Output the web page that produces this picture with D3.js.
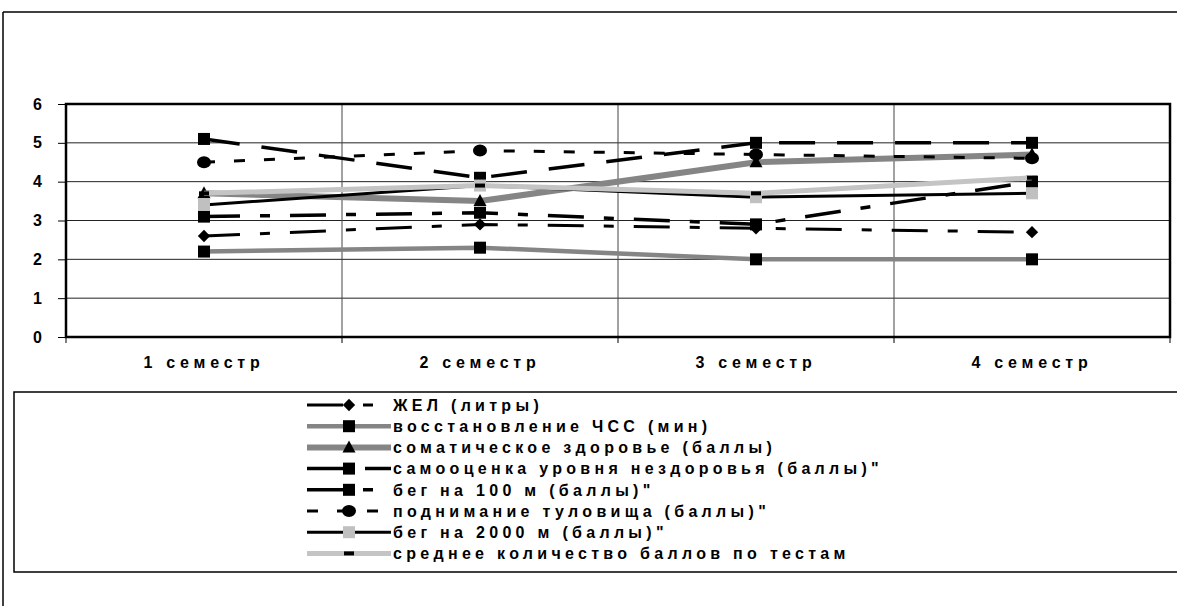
<!DOCTYPE html>
<html>
<head>
<meta charset="utf-8">
<script src="https://cdn.jsdelivr.net/npm/d3@7"></script>
<style>
  body { margin: 0; background: #fff; }
  text { font-family: "Liberation Sans", Arial, sans-serif; font-weight: bold; fill: #000; }
</style>
</head>
<body>
<svg id="chart" width="1177" height="606"></svg>
<script>
// Данные
const semesters = ["1 семестр", "2 семестр", "3 семестр", "4 семестр"];
const yTicks = [0, 1, 2, 3, 4, 5, 6];
const seriesNames = [
    "ЖЕЛ (литры)",
    "восстановление ЧСС (мин)",
    "соматическое здоровье (баллы)",
    "самооценка уровня нездоровья (баллы)\"",
    "бег на 100 м (баллы)\"",
    "поднимание туловища (баллы)\"",
    "бег на 2000 м (баллы)\"",
    "среднее количество баллов по тестам"
];
const zhel = [2.6, 2.9, 2.8, 2.7];
const hrRecovery = [2.2, 2.3, 2.0, 2.0];
const somatic = [3.7, 3.5, 4.5, 4.7];
const selfRating = [5.1, 4.1, 5.0, 5.0];
const run100 = [3.1, 3.2, 2.9, 4.0];
const situps = [4.5, 4.8, 4.7, 4.6];
const run2000 = [3.4, 3.9, 3.6, 3.7];
const avgScore = [3.7, 3.9, 3.7, 4.1];

const seriesValues = [zhel, hrRecovery, somatic, selfRating, run100, situps, run2000, avgScore];

// Стили линий и маркеров
const styles = [
    { color: "#000", width: 3, dash: "36,20,10,20", marker: "diamond", mfill: "#000" },
    { color: "#858585", width: 4.5, dash: null, marker: "square", mfill: "#000" },
    { color: "#858585", width: 6, dash: null, marker: "triangle", mfill: "#000" },
    { color: "#000", width: 3.5, dash: "36,22", marker: "square", mfill: "#000" },
    { color: "#000", width: 3.5, dash: "36,20,10,20", marker: "square", mfill: "#000" },
    { color: "#000", width: 3, dash: "11,19", marker: "circle", mfill: "#000" },
    { color: "#000", width: 3, dash: null, marker: "square", mfill: "#c0c0c0" },
    { color: "#c4c4c4", width: 5, dash: null, marker: "dash", mfill: "#000" }
];

const series = seriesNames.map((name, i) => ({
    name,
    style: styles[i],
    points: semesters.map((s, j) => ({ key: s, value: seriesValues[i][j] }))
}));

const svg = d3.select("#chart");

// Рамка области диаграммы
svg.append("line").attr("x1", 3).attr("x2", 1177).attr("y1", 12).attr("y2", 12)
    .attr("stroke", "#000").attr("stroke-width", 1.5);
svg.append("line").attr("x1", 3).attr("x2", 3).attr("y1", 12).attr("y2", 606)
    .attr("stroke", "#000").attr("stroke-width", 1.5);

const plotLeft = 66, plotRight = 1170, plotTop = 104, plotBottom = 337;

const x = d3.scaleBand()
    .domain(semesters)
    .range([plotLeft, plotRight])
    .padding(0);

const y = d3.scaleLinear()
    .domain([0, 6])
    .range([plotBottom, plotTop]);

// Сетка
svg.append("g")
    .selectAll("line")
    .data(yTicks.slice(1, -1))
    .enter()
    .append("line")
    .attr("x1", plotLeft).attr("x2", plotRight)
    .attr("y1", d => y(d)).attr("y2", d => y(d))
    .attr("stroke", "#222").attr("stroke-width", 1);

svg.append("g")
    .selectAll("line")
    .data(semesters.slice(1))
    .enter()
    .append("line")
    .attr("x1", d => x(d)).attr("x2", d => x(d))
    .attr("y1", plotTop).attr("y2", plotBottom)
    .attr("stroke", "#444").attr("stroke-width", 1);

// Ось Y
const yAxis = svg.append("g")
    .attr("transform", `translate(${plotLeft},0)`)
    .call(d3.axisLeft(y).tickValues(yTicks).tickFormat(d3.format("d")).tickSize(8).tickPadding(16));
yAxis.select(".domain").remove();
yAxis.selectAll("line").attr("stroke", "#000");
yAxis.selectAll("text").style("font-size", "16px").style("font-family", null);

// Ось X (деления на границах категорий)
const xAxis = svg.append("g")
    .attr("transform", `translate(0,${plotBottom})`)
    .call(d3.axisBottom(x).tickSize(0).tickPadding(20));
xAxis.select(".domain").remove();
xAxis.selectAll("text")
    .style("font-size", "16px")
    .style("letter-spacing", "4.8px")
    .style("font-family", null);

svg.append("g")
    .selectAll("line")
    .data(semesters.map(d => x(d)).concat([plotRight]))
    .enter()
    .append("line")
    .attr("x1", d => d).attr("x2", d => d)
    .attr("y1", plotBottom).attr("y2", plotBottom + 6)
    .attr("stroke", "#000");

// Граница области построения
svg.append("rect")
    .attr("x", plotLeft).attr("y", plotTop)
    .attr("width", plotRight - plotLeft).attr("height", plotBottom - plotTop)
    .attr("fill", "none")
    .attr("stroke", "#000")
    .attr("stroke-width", 2.5);

// Маркеры
function drawMarker(g, type, fill, cx, cy) {
    if (type === "square") {
        g.append("rect").attr("x", cx - 6).attr("y", cy - 6).attr("width", 12).attr("height", 12).attr("fill", fill);
    } else if (type === "diamond") {
        g.append("path").attr("d", d3.symbol(d3.symbolSquare, 76)())
            .attr("transform", `translate(${cx},${cy}) rotate(45)`).attr("fill", fill);
    } else if (type === "triangle") {
        g.append("path").attr("d", `M${cx},${cy - 7}L${cx + 6.5},${cy + 5}L${cx - 6.5},${cy + 5}Z`).attr("fill", fill);
    } else if (type === "circle") {
        g.append("ellipse").attr("cx", cx).attr("cy", cy).attr("rx", 7).attr("ry", 6).attr("fill", fill);
    } else if (type === "dash") {
        g.append("rect").attr("x", cx - 5).attr("y", cy - 2).attr("width", 10).attr("height", 4).attr("fill", fill);
    }
}

const line = d3.line()
    .x(d => x(d.key) + x.bandwidth() / 2)
    .y(d => y(d.value));

// Ряды
series.forEach(s => {
    const g = svg.append("g");
    g.append("path")
        .datum(s.points)
        .attr("d", line)
        .attr("fill", "none")
        .attr("stroke", s.style.color)
        .attr("stroke-width", s.style.width)
        .attr("stroke-dasharray", s.style.dash);
    s.points.forEach(p => drawMarker(g, s.style.marker, s.style.mfill, x(p.key) + x.bandwidth() / 2, y(p.value)));
});

// Легенда
svg.append("rect")
    .attr("x", 14).attr("y", 392)
    .attr("width", 1200).attr("height", 180)
    .attr("fill", "none")
    .attr("stroke", "#000")
    .attr("stroke-width", 1.5);

const legend = svg.append("g")
    .selectAll("g")
    .data(series)
    .enter()
    .append("g")
    .attr("transform", (d, i) => `translate(0,${405 + i * 21.2})`);

legend.append("line")
    .attr("x1", 307).attr("x2", 391)
    .attr("y1", 0).attr("y2", 0)
    .attr("stroke", d => d.style.color)
    .attr("stroke-width", d => d.style.width)
    .attr("stroke-dasharray", d => d.style.dash);

legend.each(function(d) {
    drawMarker(d3.select(this), d.style.marker, d.style.mfill, 349, 0);
});

legend.append("text")
    .attr("x", 393)
    .attr("y", 0)
    .attr("dy", "0.36em")
    .style("font-size", "16px")
    .style("letter-spacing", "4.3px")
    .text(d => d.name);
</script>
</body>
</html>
